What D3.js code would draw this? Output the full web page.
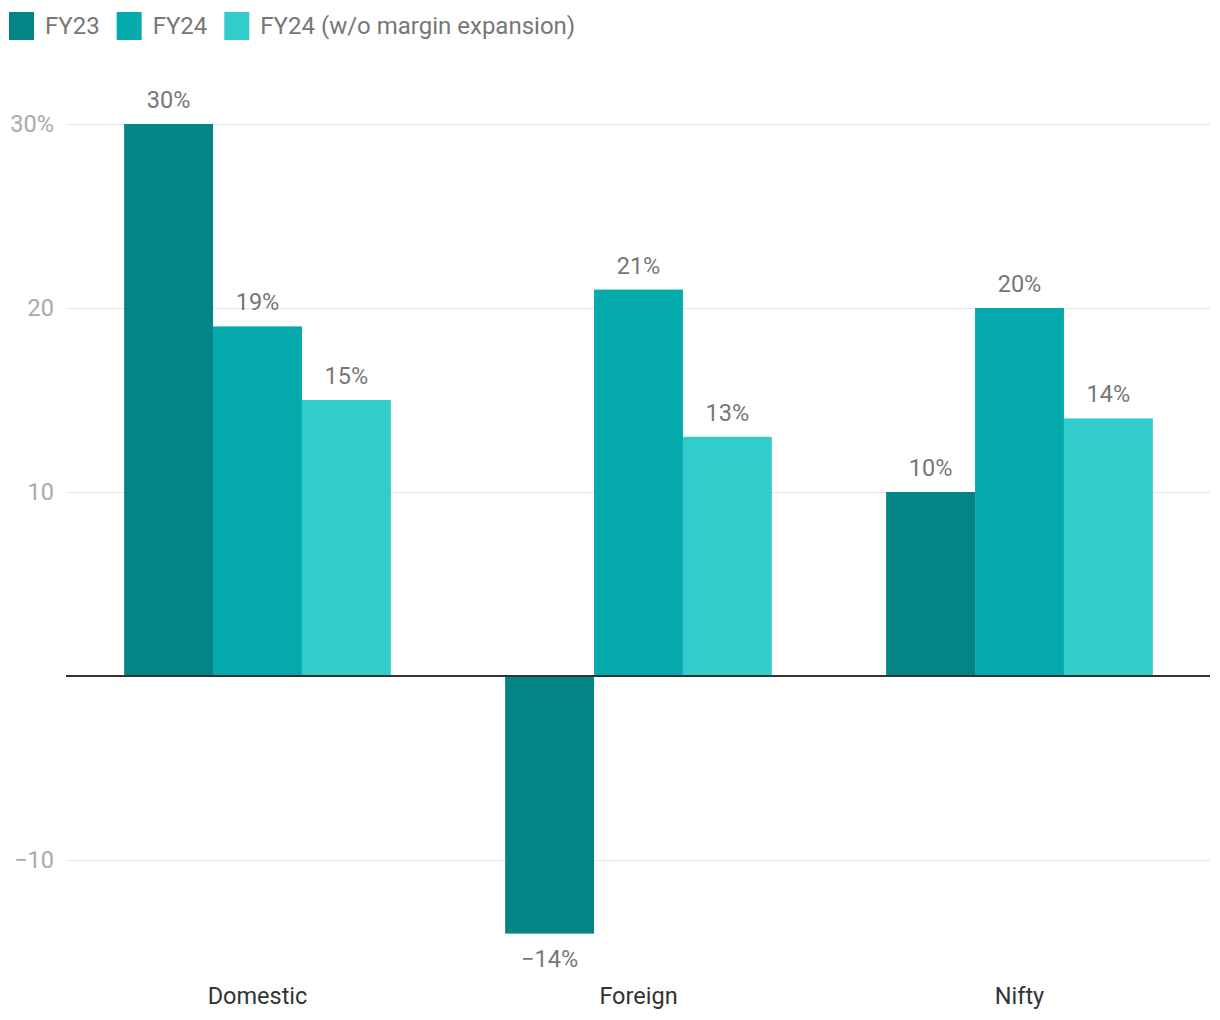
<!DOCTYPE html>
<html>
<head>
<meta charset="utf-8">
<script src="https://cdn.jsdelivr.net/npm/d3@7"></script>
<style>
  body{margin:0;background:#fff;font-family:Roboto, "Noto Sans", sans-serif;}
</style>
</head>
<body>
<div id="chart"></div>
<script>
var categories = ["Domestic", "Foreign", "Nifty"];
var seriesNames = ["FY23", "FY24", "FY24 (w/o margin expansion)"];
var fy23 = [30, -14, 10];
var fy24 = [19, 21, 20];
var fy24wo = [15, 13, 14];
var yTicks = [-10, 10, 20, 30];

var cols = ["#028584", "#04aaac", "#33cccc"];

var width = 1220, height = 1020;
var svg = d3.select("#chart").append("svg").attr("width", width).attr("height", height);

var series = [fy23, fy24, fy24wo];
var rows = [];
categories.forEach(function(c, i){
	series.forEach(function(s, j){
		rows.push({cat: c, key: seriesNames[j], idx: j, value: s[i]});
	});
});

var x0 = d3.scaleBand().domain(categories).range([67, 1210]).paddingInner(0.3).paddingOuter(0.15);
var x1 = d3.scaleBand().domain(seriesNames).range([0, x0.bandwidth()]);
var y = d3.scaleLinear().domain([-10, 30]).range([860, 124]);

//grid lines
var grid = svg.append("g");
grid.selectAll("line").data(yTicks).enter().append("line")
	.attr("x1", 67).attr("x2", 1210)
	.attr("y1", function(d){return y(d)}).attr("y2", function(d){return y(d)})
	.attr("stroke", "#e5e5e5").attr("stroke-width", 1)
	.style("shape-rendering", "crispEdges");

grid.selectAll("text").data(yTicks).enter().append("text")
	.attr("x", 54).attr("y", function(d){return y(d)}).attr("dy", "0.35em")
	.attr("text-anchor", "end")
	.style("font-size", "23.5px").style("fill", "#aaaaaa")
	.text(function(d){return d == 30 ? d + "%" : (d < 0 ? "\u2212" + Math.abs(d) : d)});

//bars
var bars = svg.append("g");
bars.selectAll("rect").data(rows).enter().append("rect")
	.attr("x", function(d){return x0(d.cat) + x1(d.key)})
	.attr("width", x1.bandwidth())
	.attr("y", function(d){return Math.min(y(d.value), y(0))})
	.attr("height", function(d){return Math.abs(y(d.value) - y(0))})
	.attr("fill", function(d){return cols[d.idx]});

//value labels
bars.selectAll("text").data(rows).enter().append("text")
	.attr("x", function(d){return x0(d.cat) + x1(d.key) + x1.bandwidth()/2})
	.attr("y", function(d){return d.value >= 0 ? y(d.value) - 16 : y(d.value) + 33})
	.attr("text-anchor", "middle")
	.style("font-size", "23.5px").style("fill", "#777777")
	.text(function(d){return (d.value < 0 ? "\u2212" + Math.abs(d.value) : d.value) + "%"});

//zero line
svg.append("line")
	.attr("x1", 66).attr("x2", 1210)
	.attr("y1", y(0)).attr("y2", y(0))
	.attr("stroke", "#333333").attr("stroke-width", 2);

//category labels
svg.append("g").selectAll("text").data(categories).enter().append("text")
	.attr("x", function(d){return x0(d) + x0.bandwidth()/2})
	.attr("y", 1004)
	.attr("text-anchor", "middle")
	.style("font-size", "23.5px").style("fill", "#333333")
	.text(function(d){return d});

//legend
var legend = svg.append("g");
var lx = 9;
seriesNames.forEach(function(name, i){
	var g = legend.append("g").attr("transform", "translate(" + lx + ",12)");
	g.append("rect").attr("width", 25).attr("height", 28).attr("fill", cols[i]);
	var t = g.append("text").attr("x", 36).attr("y", 22)
		.style("font-size", "24px").style("fill", "#777777").text(name);
	lx += 36 + t.node().getComputedTextLength() + 17;
});
</script>
</body>
</html>
